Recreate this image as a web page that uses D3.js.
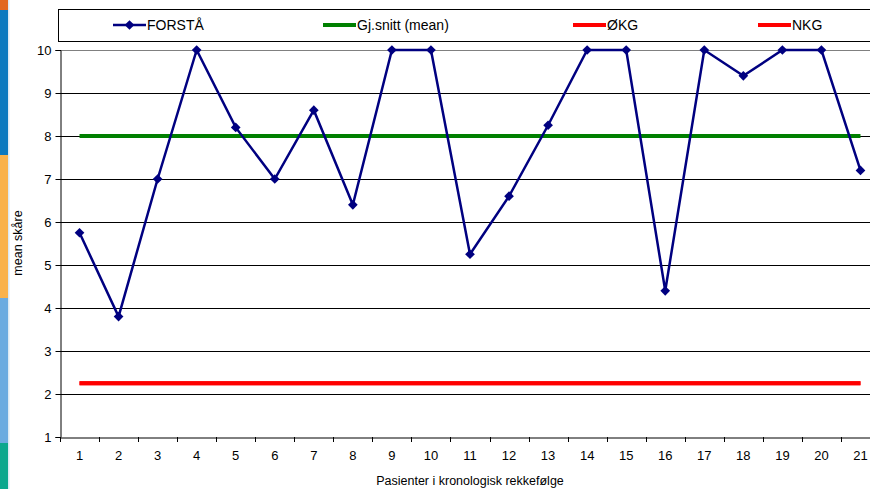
<!DOCTYPE html>
<html><head><meta charset="utf-8">
<script src="https://cdn.jsdelivr.net/npm/d3@7"></script>
<style>body{margin:0;background:#fff;}svg{display:block;font-family:"Liberation Sans",Arial,sans-serif;}</style>
</head><body>
<script>
const categories = d3.range(1, 22).map(String);
const forsta = [5.75, 3.8, 7.0, 10, 8.2, 7.0, 8.6, 6.4, 10, 10, 5.25, 6.6, 8.25, 10, 10, 4.4, 10, 9.4, 10, 10, 7.2];
const meanValue = 8.0;
const okgValue = 2.25;
const nkgValue = 2.25;
const yTicks = [1,2,3,4,5,6,7,8,9,10];
const legendItems = ["FORSTÅ", "Gj.snitt (mean)", "ØKG", "NKG"];
const stripColors = ["#e2671f", "#0a79bf", "#f9b24b", "#6aabe0", "#0ba78e"];
const stripBreaks = [0, 10, 155, 298, 443, 489];

const W = 870, H = 489;
const m = {left: 60, top: 50, right: 880, bottom: 437};
const svg = d3.select("body").append("svg").attr("width", W).attr("height", H);

// left decorative strip
stripColors.forEach((c, i) => {
  svg.append("rect").attr("x", 0).attr("y", stripBreaks[i]).attr("width", 8)
    .attr("height", stripBreaks[i+1] - stripBreaks[i]).attr("fill", c);
});
svg.append("rect").attr("x", 8).attr("y", 0).attr("width", 1.5).attr("height", H).attr("fill", "#dbe9f3");

const x = d3.scaleBand().domain(categories).range([m.left, m.right]);
const y = d3.scaleLinear().domain([1, 10]).range([m.bottom, m.top]);

// grid
svg.append("g").selectAll("line").data(yTicks.filter(v => v > 1)).join("line")
  .attr("x1", m.left).attr("x2", m.right)
  .attr("y1", d => Math.round(y(d)) + 0.5).attr("y2", d => Math.round(y(d)) + 0.5)
  .attr("stroke", d => d === 10 ? "#808080" : "#000").attr("stroke-width", 1);

// y axis
const ya = svg.append("g").attr("transform", `translate(${m.left + 0.5},0)`)
  .call(d3.axisLeft(y).tickValues(yTicks).tickSize(5).tickPadding(4).tickFormat(d3.format("d")));
ya.select(".domain").attr("stroke", "#000");
ya.selectAll(".tick line").attr("stroke", "#000");
ya.selectAll(".tick text").attr("font-size", 13).attr("font-family", "Liberation Sans, Arial").attr("fill", "#000");

// x axis
const xa = svg.append("g").attr("transform", `translate(0,${m.bottom + 0.5})`)
  .call(d3.axisBottom(x).tickSize(0).tickPadding(13));
xa.select(".domain").attr("stroke", "#000");
xa.selectAll(".tick text").attr("font-size", 13).attr("font-family", "Liberation Sans, Arial").attr("fill", "#000");
// boundary tick marks
svg.append("g").selectAll("line").data(categories).join("line")
  .attr("x1", d => Math.round(x(d)) + 0.5).attr("x2", d => Math.round(x(d)) + 0.5)
  .attr("y1", m.bottom).attr("y2", m.bottom + 5).attr("stroke", "#000");

const cx = d => x(d) + x.bandwidth() / 2;

// reference lines
const refLine = (v, color) => svg.append("line")
  .attr("x1", cx(categories[0])).attr("x2", cx(categories[categories.length - 1]))
  .attr("y1", y(v)).attr("y2", y(v)).attr("stroke", color).attr("stroke-width", 4);
refLine(meanValue, "#008000");
refLine(okgValue, "#ff0000");
refLine(nkgValue, "#ff0000");

// FORSTÅ series
const pts = categories.map((c, i) => [cx(c), y(forsta[i])]);
svg.append("path").attr("d", d3.line()(pts)).attr("fill", "none")
  .attr("stroke", "#000080").attr("stroke-width", 2.5);
const diamond = d3.symbol().type(d3.symbolDiamond2).size(60);
svg.append("g").selectAll("path").data(pts).join("path")
  .attr("transform", d => `translate(${d[0]},${d[1]})`).attr("d", diamond).attr("fill", "#000080");

// legend
svg.append("rect").attr("x", 58.5).attr("y", 9.5).attr("width", 830).attr("height", 32)
  .attr("fill", "#fff").attr("stroke", "#000");
const legX = [113, 323, 573, 758];
const legColors = ["#000080", "#008000", "#ff0000", "#ff0000"];
legendItems.forEach((t, i) => {
  const g = svg.append("g");
  g.append("line").attr("x1", legX[i]).attr("x2", legX[i] + 33).attr("y1", 25).attr("y2", 25)
    .attr("stroke", legColors[i]).attr("stroke-width", i === 0 ? 2.5 : 4);
  if (i === 0) g.append("path").attr("transform", `translate(${legX[i] + 16.5},25)`).attr("d", diamond).attr("fill", "#000080");
  g.append("text").attr("x", legX[i] + 34).attr("y", 30).attr("font-size", 14).attr("fill", "#000").text(t);
});

// axis titles
svg.append("text").attr("x", 470).attr("y", 485).attr("text-anchor", "middle").attr("font-size", 12.5).text("Pasienter i kronologisk rekkefølge");
svg.append("text").attr("transform", "translate(22,243) rotate(-90)").attr("text-anchor", "middle").attr("font-size", 12.5).text("mean skåre");
</script>
</body></html>
